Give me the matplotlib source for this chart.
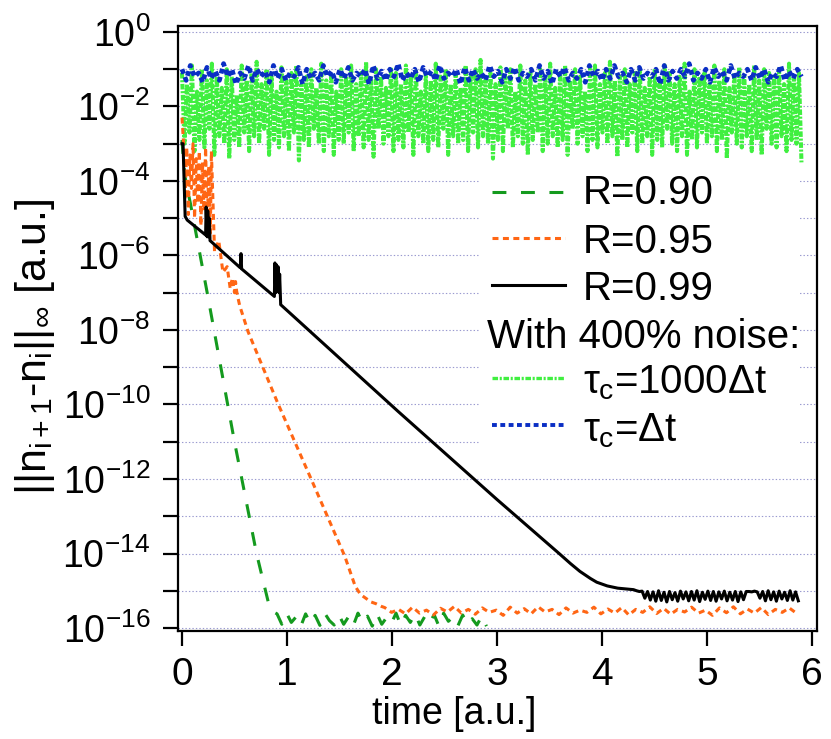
import numpy as np
import matplotlib
matplotlib.use('Agg')
import matplotlib.pyplot as plt
from matplotlib.lines import Line2D
from matplotlib.patches import Rectangle

plt.rcParams['font.family'] = ['Liberation Sans', 'DejaVu Sans']
plt.rcParams['mathtext.fontset'] = 'custom'
plt.rcParams['mathtext.rm'] = 'Liberation Sans'
plt.rcParams['mathtext.it'] = 'Liberation Sans'
plt.rcParams['mathtext.bf'] = 'Liberation Sans:bold'
plt.rcParams['axes.unicode_minus'] = False
plt.rcParams['lines.scale_dashes'] = False

# === Data (log10 of ||n_{i+1}-n_i||) ===
# R = 0.90
t_r090 = [0.0, 0.01, 0.03, 0.05, 0.08, 0.24, 0.50, 0.71, 0.77, 0.80, 0.83]
log_r090 = [-2.9, -3.3, -3.9, -4.2, -4.6, -7.0, -11.0, -14.0, -14.7, -15.05, -15.4]
t_r090_floor = np.linspace(0.86, 2.9, 46)
log_r090_floor = [-15.55, -15.62, -15.9, -15.6, -15.85, -15.7, -15.95, -15.62, -15.88, -15.66,
                  -15.93, -15.6, -15.8, -15.92, -15.65, -15.9, -15.7, -15.94, -15.6, -15.86,
                  -15.68, -15.95, -15.62, -15.9, -15.72, -15.88, -15.6, -15.93, -15.66, -15.85,
                  -15.62, -15.92, -15.7, -15.88, -15.64, -15.95, -15.6, -15.82, -15.7, -15.94,
                  -15.65, -15.9, -15.75, -15.92, -15.68, -15.95]

# R = 0.95
t_r095 = [0.0, 0.02, 0.03, 0.045, 0.06, 0.075, 0.09, 0.105, 0.12, 0.135, 0.15, 0.165,
          0.18, 0.195, 0.21, 0.225, 0.24, 0.255, 0.27, 0.28, 0.31, 0.35, 0.39, 0.43,
          0.46, 0.48, 0.50, 0.51, 0.52, 0.53, 0.55, 0.63, 0.91, 1.23, 1.55, 1.65,
          1.70, 1.75, 1.80, 1.85, 1.90]
log_r095 = [-2.3, -3.2, -4.5, -3.1, -4.9, -3.3, -4.2, -3.0, -5.0, -3.4, -4.6, -3.2,
            -5.2, -3.5, -4.8, -3.1, -5.3, -3.6, -5.4, -3.2, -5.9, -5.6, -6.45, -6.3,
            -6.9, -6.6, -7.0, -6.7, -6.95, -7.1, -7.35, -8.05, -9.95, -12.0, -14.07, -14.88,
            -15.1, -15.2, -15.3, -15.35, -15.42]
t_r095_floor = np.linspace(1.93, 5.85, 60)
log_r095_floor = [-15.45, -15.58, -15.5, -15.62, -15.44, -15.6, -15.52, -15.65, -15.47, -15.57,
                  -15.42, -15.6, -15.5, -15.63, -15.46, -15.58, -15.52, -15.66, -15.44, -15.6,
                  -15.48, -15.62, -15.43, -15.57, -15.5, -15.64, -15.46, -15.6, -15.52, -15.58,
                  -15.44, -15.62, -15.49, -15.6, -15.45, -15.65, -15.5, -15.58, -15.43, -15.61,
                  -15.47, -15.63, -15.5, -15.57, -15.44, -15.6, -15.52, -15.66, -15.46, -15.59,
                  -15.43, -15.62, -15.49, -15.6, -15.45, -15.64, -15.5, -15.58, -15.46, -15.6]

# R = 0.99
t_r099 = [0.0, 0.01, 0.03, 0.05, 0.225, 0.23, 0.24, 0.245, 0.255, 0.26, 0.267,
          0.555, 0.562, 0.568, 0.88, 0.885, 0.893, 0.90, 0.91, 0.915, 0.925, 0.93,
          0.94, 2.06, 3.0, 3.6, 3.7, 3.79, 3.89, 3.95, 4.05, 4.15, 4.3]
log_r099 = [-3.0, -3.0, -4.95, -5.05, -5.45, -4.7, -5.5, -4.8, -5.5, -5.0, -5.6,
            -6.33, -5.95, -6.36, -7.10, -6.2, -7.0, -6.25, -6.9, -6.3, -7.0, -6.5,
            -7.32, -10.19, -12.55, -14.02, -14.27, -14.48, -14.67, -14.77, -14.87, -14.93, -14.97]
t_r099_floor = np.linspace(4.33, 5.87, 60)
log_r099_floor = [-15.0, -15.02, -15.01, -15.2, -15.02, -15.25, -15.03, -15.28, -15.0, -15.26,
                  -15.04, -15.3, -15.02, -15.24, -15.05, -15.28, -15.01, -15.22, -15.03, -15.27,
                  -15.02, -15.25, -15.0, -15.29, -15.04, -15.23, -15.01, -15.26, -15.02, -15.28,
                  -15.03, -15.22, -15.01, -15.27, -15.04, -15.25, -15.02, -15.29, -15.03, -15.24,
                  -15.02, -15.02, -15.03, -15.01, -15.03, -15.2, -15.02, -15.27, -15.0, -15.24,
                  -15.03, -15.28, -15.01, -15.22, -15.04, -15.26, -15.0, -15.25, -15.03, -15.27]

# 400% noise, tau_c = 1000 dt
t_noise_1000 = np.linspace(0.0, 5.9, 250)
log_noise_1000 = [-1.1, -3.0, -1.4, -2.7, -0.9, -3.2, -1.6, -2.9, -1.0, -3.1,
                  -1.3, -2.6, -0.85, -3.3, -1.2, -2.8, -1.5, -3.0, -1.0, -3.4,
                  -1.2, -2.9, -1.7, -3.1, -0.9, -2.7, -1.3, -3.2, -1.1, -2.8,
                  -0.8, -3.0, -1.4, -2.6, -1.0, -3.3, -1.2, -2.9, -1.6, -3.1,
                  -0.95, -2.8, -1.3, -3.2, -1.1, -2.7, -0.9, -3.45, -1.4, -2.9,
                  -1.2, -3.1, -1.0, -2.6, -1.5, -3.0, -0.85, -3.2, -1.3, -2.8,
                  -1.1, -3.3, -1.6, -2.9, -1.0, -3.0, -1.2, -2.7, -0.9, -3.2,
                  -1.4, -2.8, -1.1, -3.1, -0.8, -2.9, -1.3, -3.35, -1.0, -2.6,
                  -1.2, -3.0, -1.5, -2.8, -0.95, -3.2, -1.1, -2.9, -1.4, -3.1,
                  -0.9, -2.7, -1.2, -3.3, -1.0, -2.8, -1.6, -3.0, -1.1, -3.2,
                  -1.3, -2.9, -0.85, -3.1, -1.2, -2.6, -1.0, -3.3, -1.4, -2.8,
                  -1.1, -3.0, -1.5, -2.9, -0.9, -3.2, -1.2, -2.7, -1.0, -3.1,
                  -0.75, -2.8, -1.3, -3.0, -1.1, -3.4, -1.4, -2.9, -0.95, -3.2,
                  -1.2, -2.6, -1.0, -3.1, -1.6, -2.8, -0.9, -3.0, -1.3, -3.3,
                  -1.1, -2.9, -1.4, -2.7, -1.0, -3.2, -1.2, -3.0, -0.85, -2.8,
                  -1.5, -3.1, -1.1, -2.9, -0.9, -3.3, -1.3, -2.6, -1.0, -3.0,
                  -1.2, -2.8, -1.6, -3.2, -1.0, -2.9, -0.9, -3.1, -1.4, -2.7,
                  -1.1, -3.0, -0.8, -2.8, -1.3, -3.35, -1.2, -2.9, -1.0, -3.1,
                  -1.4, -2.7, -1.1, -3.2, -0.95, -3.0, -1.5, -2.8, -1.2, -3.3,
                  -1.0, -2.9, -1.3, -3.1, -0.9, -2.6, -1.1, -3.0, -1.4, -3.2,
                  -1.2, -2.8, -0.85, -3.3, -1.6, -2.9, -1.0, -3.1, -1.2, -2.7,
                  -1.1, -3.0, -1.4, -2.8, -0.9, -3.2, -1.3, -2.9, -1.0, -3.4,
                  -1.5, -2.7, -1.1, -3.0, -0.95, -3.1, -1.2, -2.8, -1.4, -3.2,
                  -0.9, -2.9, -1.3, -3.3, -1.0, -2.6, -1.1, -3.0, -1.2, -3.1,
                  -1.0, -2.8, -1.4, -3.2, -0.85, -2.9, -1.2, -3.0, -1.1, -3.5]

# 400% noise, tau_c = dt
t_noise_1 = np.linspace(0.0, 5.9, 150)
log_noise_1 = [-1.0, -1.3, -0.9, -1.2, -1.1, -1.35, -0.95, -1.25, -1.05, -1.3,
               -0.85, -1.2, -1.0, -1.4, -1.1, -1.25, -0.9, -1.3, -1.0, -1.2,
               -1.05, -1.35, -0.9, -1.25, -1.0, -1.3, -1.1, -1.2, -0.95, -1.4,
               -1.0, -1.25, -1.1, -1.3, -0.9, -1.2, -1.05, -1.35, -1.0, -1.25,
               -0.95, -1.3, -1.1, -1.2, -1.0, -1.4, -0.9, -1.25, -1.05, -1.3,
               -1.0, -1.2, -0.85, -1.3, -1.1, -1.25, -1.0, -1.35, -0.95, -1.2,
               -1.05, -1.3, -0.9, -1.25, -1.1, -1.2, -1.0, -1.4, -0.95, -1.3,
               -1.0, -1.25, -1.1, -1.3, -0.9, -1.2, -1.05, -1.35, -1.0, -1.25,
               -0.95, -1.3, -1.1, -1.2, -1.0, -1.3, -0.9, -1.25, -1.05, -1.4,
               -1.0, -1.2, -0.95, -1.3, -1.1, -1.25, -1.0, -1.35, -0.9, -1.2,
               -1.05, -1.3, -1.0, -1.25, -0.9, -1.2, -1.1, -1.35, -1.0, -1.3,
               -0.95, -1.25, -1.1, -1.2, -1.0, -1.4, -0.9, -1.3, -1.05, -1.25,
               -1.0, -1.2, -0.85, -1.3, -1.1, -1.25, -1.0, -1.35, -0.95, -1.2,
               -1.05, -1.3, -0.9, -1.25, -1.1, -1.2, -1.0, -1.3, -0.95, -1.25,
               -1.0, -1.35, -1.1, -1.2, -0.9, -1.3, -1.05, -1.25, -1.0, -1.2]

y_exponents = list(range(0, -17, -1))

# === Colours and styles ===
c_r090 = '#149a1e'
c_r095 = '#ff6614'
c_r099 = 'black'
c_n1000 = '#40ef40'
c_n1 = '#0a2ec4'
st_r090 = dict(color=c_r090, lw=2.2, dashes=(10, 10.5))
st_r095 = dict(color=c_r095, lw=2.2, dashes=(4.3, 3.2))
st_r099 = dict(color=c_r099, lw=2.2)
st_n1000 = dict(color=c_n1000, lw=2.9, dashes=(4, 1.2, 1.5, 1.2))
st_n1 = dict(color=c_n1, lw=3.4, dashes=(3.5, 2.5))

fig = plt.figure(figsize=(8.31, 7.39), dpi=100)
ax = fig.add_axes([178 / 831, 1 - 631 / 739, (817 - 178) / 831, (631 - 26) / 739])

# noise curves first, then the converging ones on top
ax.plot(t_noise_1000, 10.0 ** np.array(log_noise_1000), zorder=2, **st_n1000)
ax.plot(t_noise_1, 10.0 ** np.array(log_noise_1), zorder=2, **st_n1)

ax.plot(np.concatenate([t_r090, t_r090_floor]), 10.0 ** np.array(log_r090 + log_r090_floor),
        zorder=3, **st_r090)
ax.plot(np.concatenate([t_r095, t_r095_floor]), 10.0 ** np.array(log_r095 + log_r095_floor),
        zorder=3, **st_r095)
ax.plot(np.concatenate([t_r099, t_r099_floor]), 10.0 ** np.array(log_r099 + log_r099_floor),
        zorder=4, **st_r099)

ax.set_yscale('log')
ax.set_xlim(-0.038, 6.048)
ax.set_ylim(10 ** -16.08, 10 ** 0.16)
ax.set_xticks(range(0, 7))
ax.set_yticks([10.0 ** e for e in y_exponents])
ax.set_yticklabels([r'$10^{%d}$' % e if e % 2 == 0 else '' for e in y_exponents])
ax.minorticks_off()
ax.tick_params(axis='both', direction='out', length=11, width=1.6, labelsize=27)
ax.tick_params(axis='y', pad=9)
ax.tick_params(axis='x', pad=8, labelsize=28)
for s in ax.spines.values():
    s.set_linewidth(1.6)

ax.yaxis.grid(True, linestyle=(0, (1, 1.5)), color='#9a9ad0', lw=0.8)
ax.set_axisbelow(True)

ax.set_xlabel('time [a.u.]', fontsize=27)
ax.set_ylabel(r'$||n_{i+1}$-$n_i||_{\infty}$ [a.u.]', fontsize=31)
ax.xaxis.set_label_coords(0.432, -0.108)
ax.yaxis.set_label_coords(-0.19, 0.47)

# === Legend, laid out by hand so the 'With 400% noise:' line sits flush left ===
ax.add_patch(Rectangle((0.472, 0.291), 0.498, 0.479, transform=ax.transAxes,
                       facecolor='white', edgecolor='none', zorder=5))
legend_rows = [
    (st_r090, 'R=0.90', 0.7261, 0.7063),
    (st_r095, 'R=0.95', 0.6496, 0.6248),
    (st_r099, 'R=0.99', 0.5719, 0.5471),
    (dict(st_n1000, lw=2.4), r'$\tau_{c}$=1000$\Delta$t', 0.4182, 0.3922),
    (dict(st_n1, lw=2.8), r'$\tau_{c}$=$\Delta$t', 0.3405, 0.3140),
]
for st, lab, y_line, y_text in legend_rows:
    ax.add_line(Line2D([0.4914, 0.6056], [y_line, y_line], transform=ax.transAxes,
                       zorder=6, **st))
    ax.text(0.6338, y_text, lab, transform=ax.transAxes, fontsize=29,
            va='baseline', ha='left', zorder=6)
ax.text(0.4836, 0.4683, 'With 400% noise:', transform=ax.transAxes, fontsize=29,
        va='baseline', ha='left', zorder=6)

plt.savefig('out.png', dpi=100)
plt.close()
